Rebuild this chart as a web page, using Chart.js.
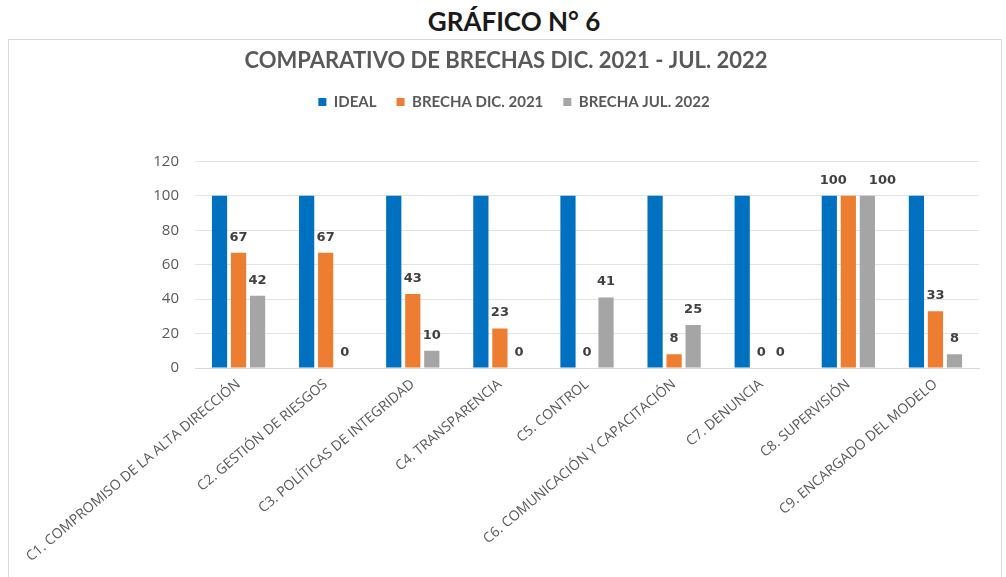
<!DOCTYPE html>
<html>
<head>
<meta charset="utf-8">
<script src="https://cdn.jsdelivr.net/npm/chart.js@4"></script>
<style>
  body { margin: 0; background: #fff; width: 1006px; height: 577px; overflow: hidden; position: relative; }
  #head { position: absolute; left: 0; top: 5px; width: 1028px; text-align: center; font: bold 26px Lato, sans-serif; color: #1a1a1a; }
  #box { position: absolute; left: 8px; top: 39px; width: 992px; height: 545px; border: 1px solid #d9d9d9; }
  #wrap { position: absolute; left: 0; top: 0; width: 992px; height: 536px; }
</style>
</head>
<body>
<div id="head">GRÁFICO N° 6</div>
<div id="box"><div id="wrap"><canvas id="brechasChart"></canvas></div></div>
<script>
// categories and series
const categorias = [
  "C1. COMPROMISO DE LA ALTA DIRECCIÓN",
  "C2. GESTIÓN DE RIESGOS",
  "C3. POLÍTICAS DE INTEGRIDAD",
  "C4. TRANSPARENCIA",
  "C5. CONTROL",
  "C6. COMUNICACIÓN Y CAPACITACIÓN",
  "C7. DENUNCIA",
  "C8. SUPERVISIÓN",
  "C9. ENCARGADO DEL MODELO"
];
const ideal = [100, 100, 100, 100, 100, 100, 100, 100, 100];
const brechaDic2021 = [67, 67, 43, 23, 0, 8, 0, 100, 33];
const brechaJul2022 = [42, 0, 10, 0, 41, 25, 0, 100, 8];

//Plugin to write values above bars (only the two gap series)
const valueLabels = {
  id: 'valueLabels',
  afterDatasetsDraw(chart) {
    const ctx = chart.ctx;
    ctx.save();
    ctx.font = 'bold 13px "DejaVu Sans", sans-serif';
    ctx.fillStyle = '#404040';
    ctx.textAlign = 'center';
    ctx.textBaseline = 'bottom';
    const a = chart.getDatasetMeta(1).data;
    const b = chart.getDatasetMeta(2).data;
    a.forEach(function (barA, i) {
      const barB = b[i];
      const tA = String(chart.data.datasets[1].data[i]);
      const tB = String(chart.data.datasets[2].data[i]);
      const wA = ctx.measureText(tA).width;
      const wB = ctx.measureText(tB).width;
      let xA = barA.x, xB = barB.x;
      // push labels apart when they sit at the same height and collide
      if (Math.abs(barA.y - barB.y) < 14 && (xB - xA) < (wA + wB) / 2 + 4) {
        const mid = (xA + xB) / 2;
        xA = mid - (wA / 2 + 11);
        xB = mid + (wB / 2 + 11);
      }
      ctx.fillText(tA, xA, barA.y - 9);
      ctx.fillText(tB, xB, barB.y - 9);
    });
    ctx.restore();
  }
};

//Extra room under the legend, and nudge title/legend right like the original
const legendSpace = {
  id: 'legendSpace',
  beforeInit(chart) {
    const fit = chart.legend.fit;
    chart.legend.fit = function () {
      fit.bind(chart.legend)();
      this.height += 42;
    };
  },
  afterLayout(chart) {
    chart.legend.left += 20;
    chart.legend.right += 20;
    chart.titleBlock.left += 12;
    chart.titleBlock.right += 12;
  }
};

window.addEventListener('DOMContentLoaded', function () {
  const ctx = document.getElementById('brechasChart').getContext('2d');

  new Chart(ctx, {
    type: 'bar',
    data: {
      labels: categorias,
      datasets: [
        { label: 'IDEAL', data: ideal, backgroundColor: '#0070C0' },
        { label: 'BRECHA DIC. 2021', data: brechaDic2021, backgroundColor: '#ED7D31' },
        { label: 'BRECHA JUL. 2022', data: brechaJul2022, backgroundColor: '#A5A5A5' }
      ]
    },
    options: {
      responsive: true,
      maintainAspectRatio: false,
      animation: false,
      categoryPercentage: 0.655,
      barPercentage: 0.8,
      layout: { padding: { left: 0, right: 22, top: 0, bottom: 0 } },
      plugins: {
        title: {
          display: true,
          text: 'COMPARATIVO DE BRECHAS DIC. 2021 - JUL. 2022',
          color: '#595959',
          font: { family: 'Lato', size: 22, weight: 'bold' },
          padding: { top: 8, bottom: 0 }
        },
        legend: {
          position: 'top',
          labels: {
            color: '#595959',
            boxWidth: 8,
            boxHeight: 8,
            padding: 20,
            font: { family: 'Lato', size: 15, weight: 'bold' }
          }
        },
        tooltip: { enabled: false }
      },
      scales: {
        x: {
          grid: { display: false, drawTicks: false },
          border: { display: true, color: '#d9d9d9' },
          ticks: {
            autoSkip: false,
            maxRotation: 40,
            minRotation: 40,
            padding: 8,
            color: '#595959',
            font: { family: 'Open Sans', size: 14 }
          },
          afterFit(scale) { scale.height = 208; }
        },
        y: {
          min: 0,
          max: 120,
          grid: { color: '#e3e3e3', drawTicks: false },
          border: { display: false },
          ticks: {
            stepSize: 20,
            padding: 16,
            color: '#595959',
            font: { family: 'Open Sans', size: 15 }
          },
          afterFit(scale) { scale.width = 186; }
        }
      }
    },
    plugins: [valueLabels, legendSpace]
  });
});
</script>
</body>
</html>
